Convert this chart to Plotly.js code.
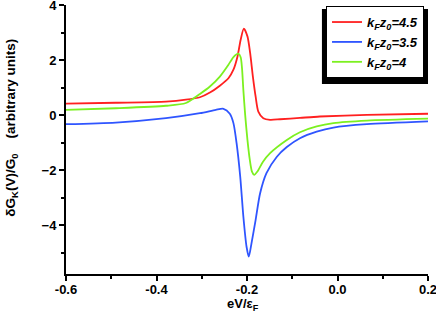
<!DOCTYPE html>
<html><head><meta charset="utf-8">
<script src="https://cdn.plot.ly/plotly-3.0.1.min.js"></script>
<style>html,body{margin:0;padding:0;background:#fff;}#chart{width:436px;height:313px;}</style>
</head><body><div id="chart"></div>
<script>
// kFz0 = 4.5 (red)
const xRed = [-0.6, -0.49, -0.379, -0.335, -0.304, -0.282, -0.260, -0.241, -0.230, -0.221, -0.214, -0.207, -0.199, -0.193, -0.187, -0.181, -0.175, -0.164, -0.149, -0.127, -0.083, -0.039, 0.065, 0.2];
const yRed = [0.42, 0.45, 0.49, 0.56, 0.65, 0.82, 1.07, 1.34, 1.65, 2.13, 2.74, 3.14, 2.86, 2.25, 1.40, 0.68, 0.13, -0.11, -0.17, -0.15, -0.10, -0.05, 0.01, 0.05];
// kFz0 = 3.5 (blue)
const xBlue = [-0.6, -0.49, -0.379, -0.304, -0.269, -0.252, -0.238, -0.230, -0.223, -0.215, -0.208, -0.201, -0.196, -0.190, -0.181, -0.171, -0.157, -0.134, -0.112, -0.083, -0.046, -0.009, 0.065, 0.2];
const yBlue = [-0.33, -0.27, -0.11, 0.07, 0.19, 0.23, 0.05, -0.29, -1.02, -2.23, -3.69, -4.78, -5.14, -4.65, -3.81, -2.84, -2.11, -1.51, -1.16, -0.84, -0.60, -0.45, -0.33, -0.23];
// kFz0 = 4 (green)
const xGreen = [-0.6, -0.49, -0.379, -0.335, -0.304, -0.282, -0.260, -0.241, -0.230, -0.219, -0.214, -0.211, -0.208, -0.204, -0.199, -0.194, -0.189, -0.184, -0.177, -0.165, -0.149, -0.112, -0.083, -0.046, -0.009, 0.065, 0.2];
const yGreen = [0.19, 0.25, 0.34, 0.44, 0.77, 1.04, 1.40, 1.83, 2.11, 2.23, 2.10, 1.70, 0.90, 0.00, -0.90, -1.60, -2.05, -2.17, -2.05, -1.70, -1.38, -0.90, -0.62, -0.41, -0.29, -0.20, -0.13];

const seriesNames = ['<b><i>k<sub>F</sub>z<sub>0</sub>=4.5</i></b>', '<b><i>k<sub>F</sub>z<sub>0</sub>=3.5</i></b>', '<b><i>k<sub>F</sub>z<sub>0</sub>=4</i></b>'];
const tickVals = [-0.6, -0.4, -0.2, 0.0, 0.2];
const tickText = ['-0.6', '-0.4', '-0.2', '0.0', '0.2'];

const mk = (x, y, name, color) => ({x, y, name, type: 'scatter', mode: 'lines',
  line: {color, width: 1.8, shape: 'spline', smoothing: 0.7}});
const data = [
  mk(xRed, yRed, seriesNames[0], '#ff2020'),
  mk(xBlue, yBlue, seriesNames[1], '#2f55ff'),
  mk(xGreen, yGreen, seriesNames[2], '#7cf020')
];
const fam = 'Liberation Sans, Arial, sans-serif';
const layout = {
  width: 436, height: 313,
  margin: {l: 66, r: 8, t: 5, b: 39},
  paper_bgcolor: '#fff', plot_bgcolor: '#fff',
  font: {family: fam, size: 13, color: '#000'},
  showlegend: true,
  legend: {x: 0.989, y: 0.996, xanchor: 'right', yanchor: 'top', bgcolor: '#fff',
    bordercolor: '#000', borderwidth: 1, font: {family: fam, size: 13, color: '#000', weight: 'bold'},
    tracegroupgap: 0, itemwidth: 30},
  xaxis: {range: [-0.6, 0.2], tickvals: tickVals, ticktext: tickText, showgrid: false, zeroline: false,
    showline: true, linecolor: '#000', linewidth: 2, ticks: 'outside', ticklen: 5, tickwidth: 2, tickcolor: '#000',
    minor: {tickvals: [-0.5, -0.3, -0.1, 0.1], ticks: 'outside', ticklen: 3, tickwidth: 2, tickcolor: '#000'},
    ticklabeloverflow: 'allow', ticklabelstandoff: -3,
    tickfont: {family: fam, size: 13, weight: 'bold'}},
  yaxis: {range: [-5.77, 4], dtick: 2, tick0: 0, showgrid: false, zeroline: false,
    showline: true, linecolor: '#000', linewidth: 2, ticks: 'outside', ticklen: 5, tickwidth: 2, tickcolor: '#000',
    minor: {dtick: 2, tick0: 1, ticks: 'outside', ticklen: 3, tickwidth: 2, tickcolor: '#000'},
    ticklabeloverflow: 'allow',
    tickfont: {family: fam, size: 13, weight: 'bold'}},
  annotations: [
    {text: '<b>δG<sub>K</sub>(V)/G<sub>0</sub>&nbsp;&nbsp;&nbsp;&nbsp;(arbitrary units)</b>',
      xref: 'paper', yref: 'paper', x: -0.15, y: 0.543, xanchor: 'center', yanchor: 'middle',
      textangle: -90, showarrow: false, font: {family: fam, size: 13.5, color: '#000'}},
    {text: '<b>eV/ε<sub>F</sub></b>', xref: 'paper', yref: 'paper', x: 0.488, y: -0.114,
      xanchor: 'center', yanchor: 'middle', showarrow: false, font: {family: fam, size: 13, color: '#000'}}
  ],
  shapes: [{type: 'rect', xref: 'paper', yref: 'paper', x0: 0.707, x1: 1.0, y0: 0.706, y1: 0.985,
    fillcolor: '#000', line: {width: 0}, layer: 'above'}]
};
Plotly.newPlot('chart', data, layout, {displayModeBar: false, staticPlot: true});
</script></body></html>
